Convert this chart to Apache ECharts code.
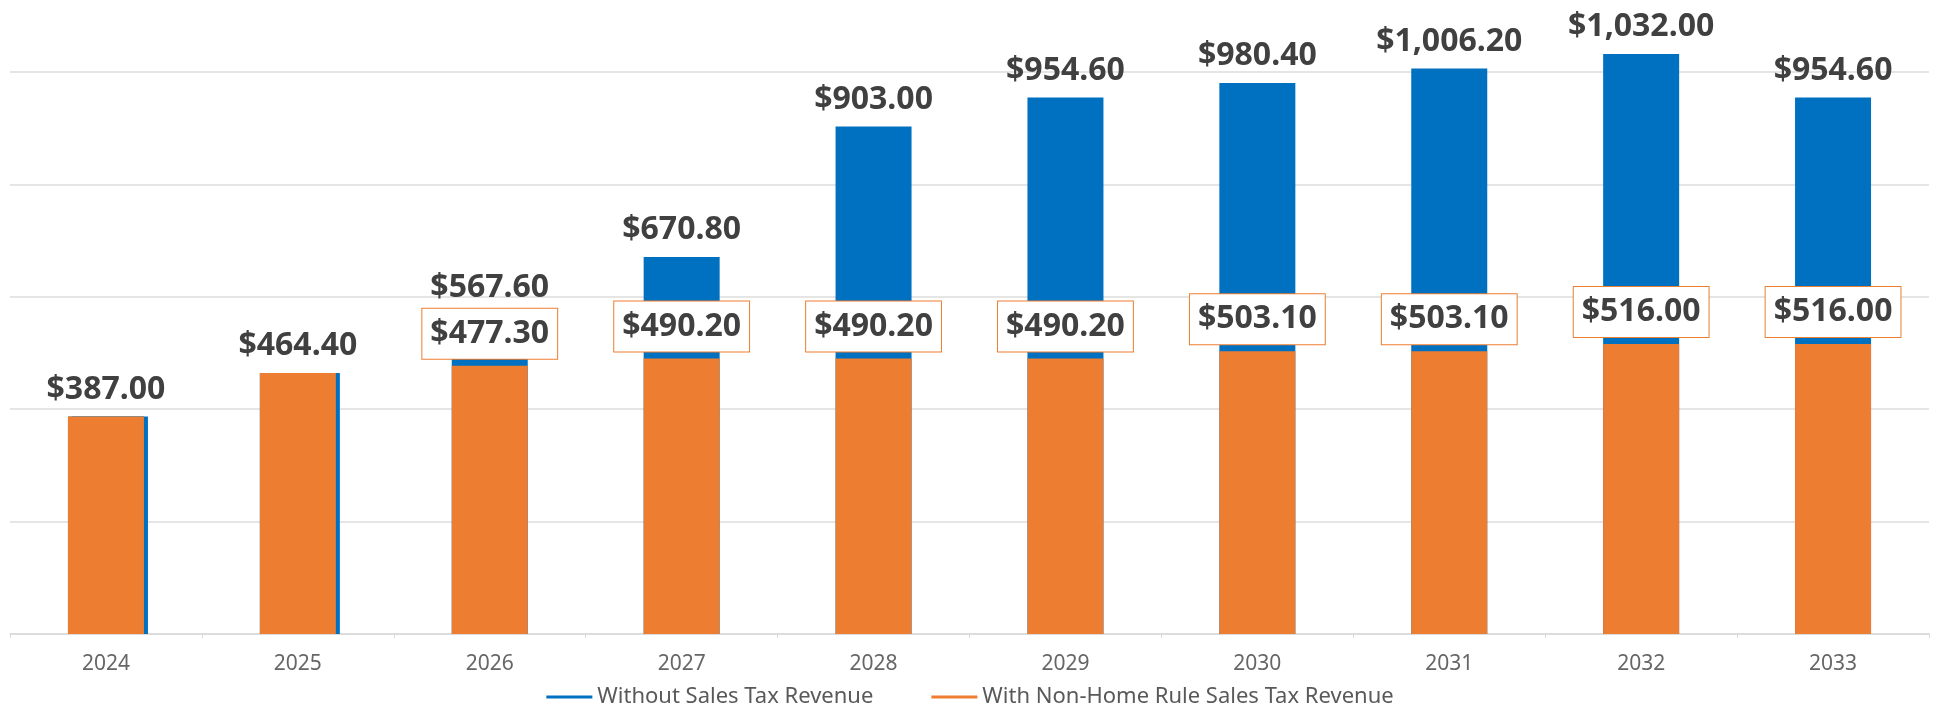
<!DOCTYPE html>
<html>
<head>
<meta charset="utf-8">
<style>
  html, body { margin: 0; padding: 0; background: #fff; }
  #chart { width: 1940px; height: 712px; }
</style>
<script src="https://cdn.jsdelivr.net/npm/echarts@6/dist/echarts.min.js"></script>
</head>
<body>
<div id="chart"></div>
<script>
// data
var years = ['2024', '2025', '2026', '2027', '2028', '2029', '2030', '2031', '2032', '2033'];
var withoutTax = [387.0, 464.4, 567.6, 670.8, 903.0, 954.6, 980.4, 1006.2, 1032.0, 954.6];
var withNonHomeRule = [387.0, 464.4, 477.3, 490.2, 490.2, 490.2, 503.1, 503.1, 516.0, 516.0];

var BLUE = '#0070C0';
var ORANGE = '#ED7D31';

function money(v) {
    return '$' + v.toLocaleString('en-US', { minimumFractionDigits: 2, maximumFractionDigits: 2 });
}

// where both series are equal the blue bar only peeks out on the right,
// and the orange label is not shown
var orangeData = withNonHomeRule.map(function (v, i) {
    if (v === withoutTax[i]) {
        return {
            value: v,
            label: { show: false },
            itemStyle: { shadowColor: BLUE, shadowOffsetX: 4, shadowBlur: 0 }
        };
    }
    return v;
});

var chart = echarts.init(document.getElementById('chart'));
chart.setOption({
    animation: false,
    textStyle: { fontFamily: 'Noto Sans' },
    // the top of the original chart is cropped: 1000 is the highest visible gridline
    grid: { left: 10, right: 11, top: 72, bottom: 78 },
    legend: {
        left: 'center',
        top: 685,
        padding: 0,
        itemGap: 58,
        itemWidth: 46,
        itemHeight: 3,
        textStyle: { fontSize: 22, color: '#595959', lineHeight: 24 },
        data: [
            { name: 'Without Sales Tax Revenue', icon: 'rect' },
            { name: 'With Non-Home Rule Sales Tax Revenue', icon: 'rect' }
        ]
    },
    xAxis: {
        type: 'category',
        data: years,
        axisLine: { lineStyle: { color: '#d9d9d9', width: 1.5 } },
        axisTick: { show: true, length: 4, lineStyle: { color: '#d9d9d9' } },
        axisLabel: { fontSize: 21, color: '#666666', margin: 20 }
    },
    yAxis: {
        type: 'value',
        min: 0,
        max: 1000,
        interval: 200,
        axisLabel: { show: false },
        axisLine: { show: false },
        axisTick: { show: false },
        splitLine: { lineStyle: { color: '#dcdcdc', width: 1.5 } }
    },
    series: [
        {
            name: 'Without Sales Tax Revenue',
            type: 'bar',
            data: withoutTax,
            clip: false,
            barWidth: 76,
            barGap: '-100%',
            itemStyle: { color: BLUE },
            label: {
                show: true,
                position: 'top',
                distance: 10,
                fontSize: 32,
                lineHeight: 34,
                fontWeight: 'bold',
                color: '#404040',
                formatter: function (p) { return money(p.value); }
            }
        },
        {
            name: 'With Non-Home Rule Sales Tax Revenue',
            type: 'bar',
            data: orangeData,
            clip: false,
            barWidth: 76,
            barGap: '-100%',
            itemStyle: { color: ORANGE },
            label: {
                show: true,
                position: 'top',
                distance: 7,
                fontSize: 32,
                lineHeight: 34,
                fontWeight: 'bold',
                color: '#404040',
                backgroundColor: '#ffffff',
                borderColor: ORANGE,
                borderWidth: 1,
                padding: [8, 8],
                formatter: function (p) { return money(p.value); }
            }
        }
    ]
});
</script>
</body>
</html>
